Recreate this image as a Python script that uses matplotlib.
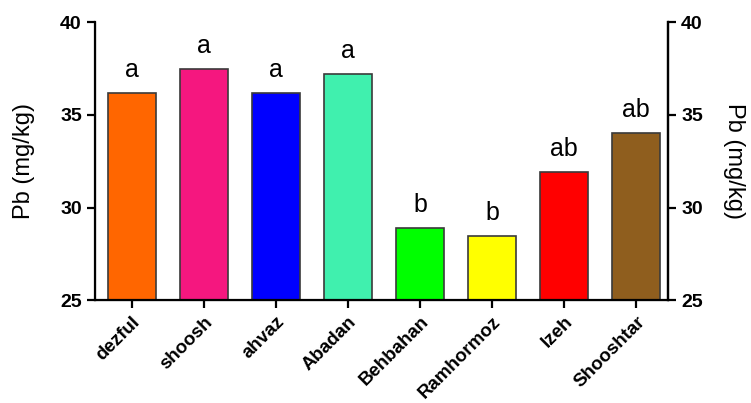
import numpy as np
import matplotlib.pyplot as plt

plt.rcParams['font.family'] = ['Liberation Sans', 'DejaVu Sans']

# Pb concentration per site
sites = ['dezful', 'shoosh', 'ahvaz', 'Abadan', 'Behbahan', 'Ramhormoz', 'Izeh', 'Shooshtar']
pb = [36.2, 37.5, 36.2, 37.2, 28.9, 28.45, 31.9, 34.0]
groups = ['a', 'a', 'a', 'a', 'b', 'b', 'ab', 'ab']
colors = ['#FF6600', '#F5177F', '#0000FF', '#40F0AE', '#00FF00', '#FFFF00', '#FF0000', '#8F5E1E']

fig = plt.figure(figsize=(7.51, 4.03), dpi=100)
ax = fig.add_axes([0.1265, 0.255, 0.763, 0.69])

x = np.arange(len(sites))
ax.bar(x, pb, width=0.667, bottom=0, color=colors, edgecolor='#3a3a3a', linewidth=1.2, zorder=2)

for xi, v, g in zip(x, pb, groups):
    ax.annotate(g, (xi, v), xytext=(0, 16), textcoords='offset pixels',
                ha='center', va='baseline', fontsize=18)

ax.set_xlim(-0.51, 7.44)
ax.set_ylim(25, 40)
ax.set_yticks([25, 30, 35, 40])
ax.set_xticks(x)
ax.set_xticklabels(sites, rotation=45, ha='right', rotation_mode='anchor', fontweight='bold', fontsize=13.5)
ax.set_ylabel('Pb (mg/kg)', fontsize=17, labelpad=18)

for lab in ax.get_yticklabels():
    lab.set_fontweight('bold')
    lab.set_fontsize(14)

ax.spines['top'].set_visible(False)
for s in ['left', 'bottom', 'right']:
    ax.spines[s].set_linewidth(1.6)
ax.tick_params(axis='both', width=1.6, length=6, direction='out')

# right axis mirrors the left one
ax2 = ax.twinx()
ax2.set_ylim(25, 40)
ax2.set_yticks([25, 30, 35, 40])
ax2.set_yticklabels(['25', '30', '35', '40'], fontweight='bold', fontsize=14)
ax2.set_ylabel('Pb (mg/kg)', fontsize=17, rotation=-90, labelpad=30)
ax2.spines['top'].set_visible(False)
ax2.spines['right'].set_linewidth(1.6)
ax2.tick_params(axis='y', width=1.6, length=6, direction='out')

fig.savefig('out.png', dpi=100)
